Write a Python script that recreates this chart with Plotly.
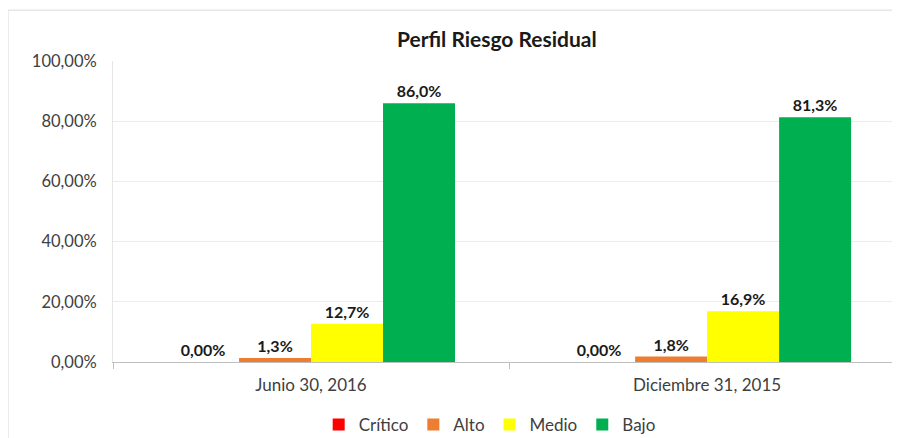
import plotly.graph_objects as go

categorias = ["Junio 30, 2016", "Diciembre 31, 2015"]
niveles = ["Crítico", "Alto", "Medio", "Bajo"]
critico = [0.0, 0.0]
alto = [0.013, 0.018]
medio = [0.127, 0.169]
bajo = [0.860, 0.813]

colores = ["#FF0000", "#ED7D31", "#FFFF00", "#00B050"]
formatos = ["%{y:.2%}", "%{y:.1%}", "%{y:.1%}", "%{y:.1%}"]

fig = go.Figure()
for nombre, valores, color, fmt in zip(niveles, [critico, alto, medio, bajo], colores, formatos):
    fig.add_trace(go.Bar(
        x=categorias, y=valores, name=nombre,
        marker=dict(color=color, line=dict(width=0)),
        texttemplate=fmt, textposition="outside",
        textfont=dict(family="Lato", size=16, color="#1a1a1a", weight="bold"),
        cliponaxis=False,
    ))

# marco exterior del grafico
fig.add_shape(type="rect", xref="paper", yref="paper",
              x0=-0.1334, x1=1.05, y0=-0.3, y1=1.169,
              line=dict(color="#d9d9d9", width=1), layer="below")

# la pagina tiene 8px de margen en el body, por eso 892x430
fig.update_layout(
    width=892, height=430,
    paper_bgcolor="white", plot_bgcolor="white",
    separators=",.",
    font=dict(family="Lato", size=16, color="#404040"),
    title=dict(text="<b>Perfil Riesgo Residual</b>", x=0.548, xanchor="center",
               y=0.9256, yanchor="middle",
               font=dict(family="Lato", size=21, color="#1a1a1a")),
    margin=dict(l=105, r=0, t=53, b=76),
    barmode="group", bargap=0.273, bargroupgap=0,
    showlegend=True,
    legend=dict(orientation="h", xref="container", yref="container",
                x=0.540, xanchor="center", y=0.0302, yanchor="middle",
                font=dict(size=17, color="#404040"), itemwidth=30,
                traceorder="normal"),
    xaxis=dict(range=[-0.5, 1.487], showline=True, linecolor="#bfbfbf",
               ticks="outside", tickson="boundaries", ticklen=6,
               tickcolor="#bfbfbf", showgrid=False, ticklabelstandoff=8,
               tickfont=dict(size=17, color="#404040")),
    yaxis=dict(range=[0, 1], dtick=0.2, tickformat=".2%",
               showgrid=True, gridcolor="#ececec", showline=True,
               linecolor="#e6e6e6", zeroline=False, ticks="",
               ticklabelstandoff=12,
               tickfont=dict(size=16.5, color="#404040")),
)

fig.write_html("out.html")
